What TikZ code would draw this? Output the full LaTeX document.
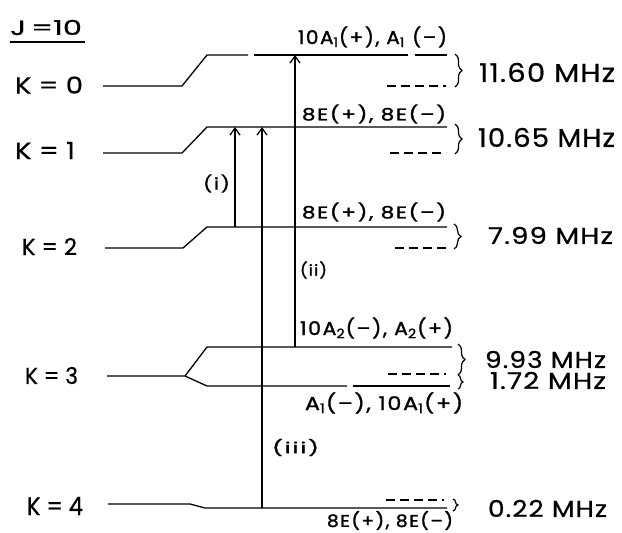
\documentclass[tikz,border=0pt]{standalone}
\usepackage{fontspec}
\usepackage{graphicx}
\setmainfont{Poppins}[FakeBold=0.6]
\newfontfamily\symfont{Poppins}[LetterSpace=8,FakeBold=1.4]
\newfontfamily\mhzfont{Poppins}[LetterSpace=4,FakeBold=0.6]
\usetikzlibrary{arrows.meta,decorations.pathreplacing}
% fit text to width #1 and height #2
\newcommand{\fitwh}[3]{\resizebox{#1pt}{#2pt}{#3}}
\newcommand{\fitwt}[3]{\resizebox*{#1pt}{#2pt}{#3}}
\begin{document}
\begin{tikzpicture}[x=1pt,y=-1pt,
  lvl/.style={line width=1.3pt},
  dlev/.style={line width=1.2pt,dash pattern=on 9pt off 5pt},
  trans/.style={line width=1.6pt,-{Straight Barb[length=7pt,width=10pt,line width=1.3pt]}},
  brc/.style={line width=1.2pt,decorate,decoration={brace,amplitude=7pt}},
  lab/.style={anchor=west,inner sep=0pt,outer sep=0pt}]
\useasboundingbox (0,0) rectangle (622,533);
% title
\node[lab] (J) at (10,27.5) {\fitwh{72}{15}{J\,=10}};
\draw[line width=1.3pt] (10,42) -- (85,42);
% K labels
\node[lab] (K0) at (15,85) {\fitwh{68}{17}{K = 0}};
\node[lab] (K1) at (15,150.5) {\fitwh{60}{17}{K = 1}};
\node[lab] (K2) at (22,246.5) {\fitwh{55}{17}{K = 2}};
\node[lab] (K3) at (25,375.5) {\fitwh{53}{17}{K = 3}};
\node[lab] (K4) at (27,506) {\fitwh{56}{18}{K = 4}};
% level coordinates
\coordinate (a0) at (103,86); \coordinate (b0) at (182,86); \coordinate (c0) at (207,55); \coordinate (d0) at (447,55);
\coordinate (a1) at (103,153); \coordinate (b1) at (182,153); \coordinate (c1) at (207,127); \coordinate (d1) at (447,127);
\coordinate (a2) at (105,248); \coordinate (b2) at (183,248); \coordinate (c2) at (207,227); \coordinate (d2) at (447,227);
\coordinate (a3) at (107,376); \coordinate (b3) at (185,376);
\coordinate (c3u) at (207,347); \coordinate (d3u) at (452,347);
\coordinate (c3l) at (207,386); \coordinate (d3l) at (450,386);
\coordinate (a4) at (108,504); \coordinate (b4) at (190,504); \coordinate (c4) at (205,508); \coordinate (d4) at (447,508);
\coordinate (g0a) at (248,55); \coordinate (g0b) at (254,55);
\coordinate (g0c) at (408,55); \coordinate (g0d) at (415,55);
\coordinate (g3a) at (347,386); \coordinate (g3b) at (353,386);
\draw[lvl] (a0) -- (b0) -- (c0) -- (g0a);
\draw[lvl] (g0b) -- (g0c);
\draw[lvl] (g0d) -- (d0);
\draw[lvl] (a1) -- (b1) -- (c1) -- (d1);
\draw[lvl] (a2) -- (b2) -- (c2) -- (d2);
\draw[lvl] (a3) -- (b3) -- (c3u) -- (d3u);
\draw[lvl] (b3) -- (c3l) -- (g3a);
\draw[lvl] (g3b) -- (d3l);
\draw[lvl] (a4) -- (b4) -- (c4) -- (d4);
% dashed partner levels
\coordinate (e0) at (387,86); \coordinate (f0) at (446,86);
\coordinate (e1) at (390,153); \coordinate (f1) at (446,153);
\coordinate (e2) at (395,248); \coordinate (f2) at (446,248);
\coordinate (e3) at (388,374); \coordinate (f3) at (446,374);
\coordinate (e4) at (386,500); \coordinate (f4) at (444,500);
\foreach \i in {0,...,4} {\draw[dlev] (e\i) -- (f\i);}
% braces
\draw[brc] (455,54) -- (455,87);
\draw[brc] (455,124) -- (455,154);
\draw[brc] (454,224) -- (454,249);
\draw[brc] (458,344) -- (458,375);
\draw[brc,decoration={amplitude=5pt}] (458,375) -- (458,389);
\draw[brc,decoration={amplitude=5pt}] (453,499) -- (453,511);
% MHz labels
\node[lab] (m0) at (479,72.5) {\fitwh{136}{19}{\mhzfont 11.60 MHz}};
\node[lab] (m1) at (478,137.5) {\fitwh{137}{19}{\mhzfont 10.65 MHz}};
\node[lab] (m2) at (488,235.5) {\fitwh{125}{17}{\mhzfont 7.99 MHz}};
\node[lab] (m3u) at (485,359.5) {\fitwh{121}{17}{\mhzfont 9.93 MHz}};
\node[lab] (m3l) at (490,380.5) {\fitwh{116}{17}{\mhzfont 1.72 MHz}};
\node[lab] (m4) at (488,508.5) {\fitwh{119}{17}{\mhzfont 0.22 MHz}};
% symmetry labels
\node[lab] (s0) at (298,37) {\fitwt{149}{21}{\symfont 10A\textsubscript{1}(+), A\textsubscript{1} (–)}};
\node[lab] (s1) at (302,114) {\fitwt{144}{19}{\symfont 8E(+), 8E(–)}};
\node[lab] (s2) at (302,212) {\fitwt{144}{19}{\symfont 8E(+), 8E(–)}};
\node[lab] (s3u) at (300,328) {\fitwt{153}{21}{\symfont 10A\textsubscript{2}(–), A\textsubscript{2}(+)}};
\node[lab] (s3l) at (305,403) {\fitwt{158}{21}{\symfont A\textsubscript{1}(–), 10A\textsubscript{1}(+)}};
\node[lab] (s4) at (327,520.5) {\fitwt{126}{19}{\symfont 8E(+), 8E(–)}};
% transitions
\coordinate (t1a) at (235,227); \coordinate (t1b) at (235,127);
\coordinate (t3a) at (262,508); \coordinate (t3b) at (262,127);
\coordinate (t2a) at (295,347); \coordinate (t2b) at (295,55);
\draw[trans] (t1a) -- (t1b);
\draw[trans] (t3a) -- (t3b);
\draw[trans] (t2a) -- (t2b);
\node[lab] (r1) at (203,183.5) {\fitwt{27}{18}{\symfont (i)}};
\node[lab] (r2) at (300,270) {\fitwt{27}{17}{\symfont (ii)}};
\node[lab] (r3) at (272,447.5) {\fitwt{47}{17}{\symfont (iii)}};
\end{tikzpicture}
\end{document}
